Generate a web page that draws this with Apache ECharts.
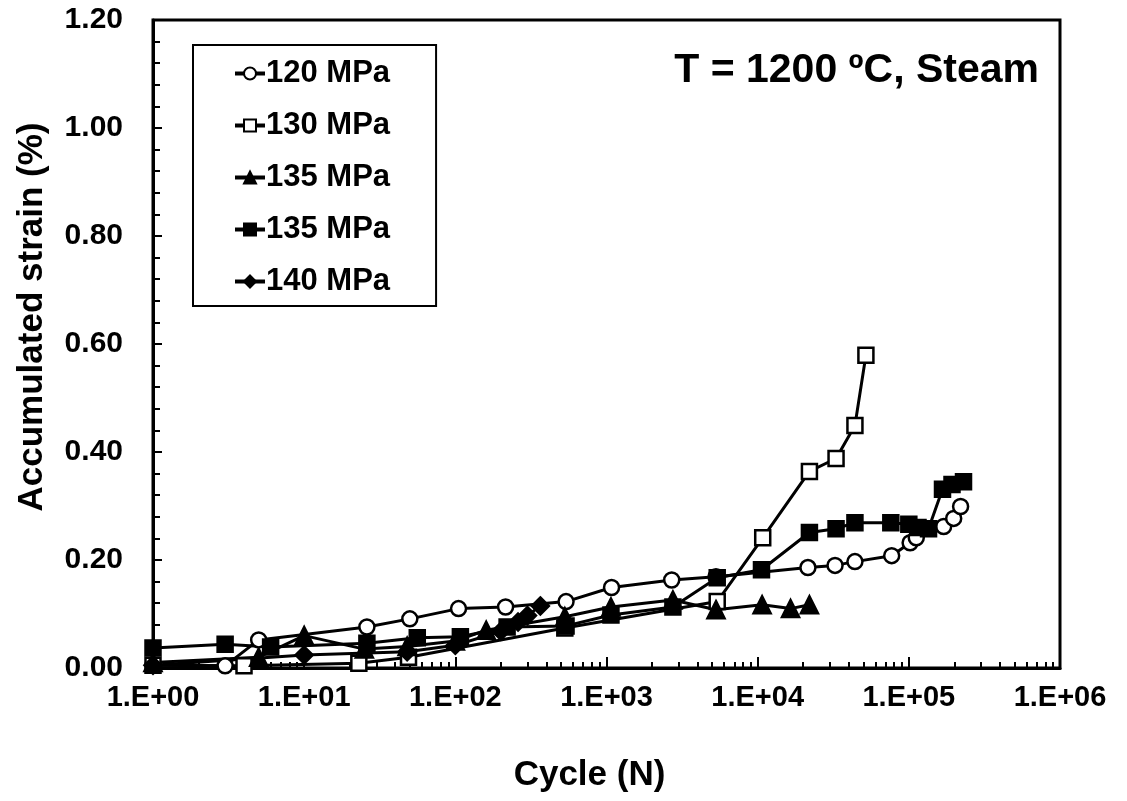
<!DOCTYPE html>
<html>
<head>
<meta charset="utf-8">
<script src="https://cdn.jsdelivr.net/npm/echarts@6/dist/echarts.min.js"></script>
<style>
  html, body { margin: 0; padding: 0; background: #fff; }
  #chart { width: 1127px; height: 801px; }
</style>
</head>
<body>
<div id="chart"></div>
<script>
// cycles (N) and accumulated strain (%) per test
const cycles120 = [1, 3, 5, 26, 50, 105, 215, 540, 1080, 2700, 5300, 21500, 32500, 44000, 77000, 102000, 112000, 170000, 198000, 220000];
const strain120 = [0.005, 0.004, 0.052, 0.076, 0.091, 0.110, 0.113, 0.123, 0.149, 0.163, 0.169, 0.186, 0.190, 0.197, 0.208, 0.232, 0.241, 0.262, 0.277, 0.299];

const cycles130 = [1, 4, 23, 49, 530, 5400, 10800, 22000, 33000, 44000, 52000];
const strain130 = [0.005, 0.004, 0.009, 0.020, 0.074, 0.123, 0.241, 0.364, 0.388, 0.449, 0.579];

const cycles135a = [1, 5, 10, 25, 48, 100, 160, 530, 1070, 2750, 5300, 10700, 16500, 22000];
const strain135a = [0.010, 0.020, 0.060, 0.035, 0.040, 0.050, 0.070, 0.095, 0.113, 0.126, 0.108, 0.117, 0.110, 0.117];

const cycles135b = [1, 3, 6, 26, 56, 108, 220, 540, 1070, 2750, 5400, 10600, 22000, 33000, 44000, 76000, 100000, 115000, 135000, 167000, 193000, 230000];
const strain135b = [0.037, 0.044, 0.039, 0.046, 0.056, 0.058, 0.076, 0.078, 0.098, 0.113, 0.167, 0.182, 0.251, 0.258, 0.269, 0.269, 0.266, 0.260, 0.258, 0.331, 0.340, 0.345];

const cycles140 = [1, 10, 48, 100, 200, 260, 300, 365];
const strain140 = [0.005, 0.024, 0.030, 0.042, 0.068, 0.085, 0.097, 0.115];

// the two 135 MPa tests need distinct series names
const seriesNames = ['120 MPa', '130 MPa', '135 MPa', '135 MPa ', '140 MPa'];

function pairs(xs, ys) {
    return xs.map((x, i) => [x, ys[i]]);
}

// minor tick positions (1..10 in each decade), in decades
const minorTicks = [];
for (let d = 0; d < 6; d++) {
    for (let k = 1; k <= 10; k++) {
        minorTicks.push(d + Math.log10(k));
    }
}

const font = 'Liberation Sans, Arial, sans-serif';

function makeSeries(name, data, symbol, filled) {
    return {
        name: name,
        type: 'line',
        data: data,
        symbol: symbol,
        symbolSize: symbol === 'triangle' || symbol === 'diamond' ? 17 : 15,
        lineStyle: { color: '#000', width: 3 },
        itemStyle: {
            color: filled ? '#000' : '#fff',
            borderColor: '#000',
            borderWidth: 2.5,
        },
        emphasis: { disabled: true },
        animation: false,
    };
}

const option = {
    backgroundColor: '#fff',
    animation: false,
    grid: {
        left: 153,
        right: 67,
        top: 20,
        bottom: 133,
        show: true,
        borderColor: '#000',
        borderWidth: 3,
    },
    title: {
        text: 'T = 1200 ºC, Steam',
        right: 83,
        top: 45,
        textStyle: { fontFamily: font, fontSize: 41, fontWeight: 'bold', color: '#000' },
    },
    legend: {
        orient: 'vertical',
        left: 193,
        top: 45,
        padding: [13, 46, 9, 40],
        itemGap: 21,
        itemWidth: 30,
        itemHeight: 15,
        borderColor: '#000',
        borderWidth: 2,
        data: seriesNames,
        formatter: name => name.trim(),
        lineStyle: { width: 4 },
        itemStyle: { borderWidth: 2 },
        textStyle: { fontFamily: font, fontSize: 31, fontWeight: 'bold', color: '#000', padding: [0, 0, 0, -4] },
    },
    xAxis: [{
        type: 'log',
        logBase: 10,
        min: 1,
        max: 1000000,
        splitNumber: 6,
        name: 'Cycle (N)',
        nameLocation: 'middle',
        nameGap: 90,
        nameTextStyle: { fontFamily: font, fontSize: 35, fontWeight: 'bold', color: '#000', padding: [0, 34, 0, 0] },
        axisLine: { lineStyle: { color: '#000', width: 3 } },
        axisTick: { inside: true, length: 11, lineStyle: { color: '#000', width: 2 } },
        splitLine: { show: false },
        axisLabel: {
            margin: 15,
            fontFamily: font, fontSize: 29, fontWeight: 'bold', color: '#000',
            formatter: v => '1.E+' + String(Math.round(Math.log10(v))).padStart(2, '0'),
        },
    }, {
        type: 'value',
        min: 0,
        max: 6,
        position: 'bottom',
        axisLine: { show: false },
        axisLabel: { show: false },
        splitLine: { show: false },
        axisTick: { inside: true, length: 6, customValues: minorTicks, lineStyle: { color: '#000', width: 2 } },
    }],
    yAxis: {
        type: 'value',
        min: 0,
        max: 1.2,
        interval: 0.2,
        name: 'Accumulated strain (%)',
        nameLocation: 'middle',
        nameGap: 103,
        nameTextStyle: { fontFamily: font, fontSize: 35, fontWeight: 'bold', color: '#000', padding: [0, 0, 0, 54] },
        axisLine: { show: true, lineStyle: { color: '#000', width: 3 } },
        axisTick: { show: true, inside: true, length: 9, lineStyle: { color: '#000', width: 2 } },
        minorTick: { show: true, splitNumber: 5, length: 7, lineStyle: { color: '#000', width: 2 } },
        splitLine: { show: false },
        axisLabel: {
            margin: 30,
            fontFamily: font, fontSize: 30, fontWeight: 'bold', color: '#000',
            formatter: v => v.toFixed(2),
        },
    },
    series: [
        makeSeries(seriesNames[0], pairs(cycles120, strain120), 'circle', false),
        makeSeries(seriesNames[1], pairs(cycles130, strain130), 'rect', false),
        makeSeries(seriesNames[2], pairs(cycles135a, strain135a), 'triangle', true),
        makeSeries(seriesNames[3], pairs(cycles135b, strain135b), 'rect', true),
        makeSeries(seriesNames[4], pairs(cycles140, strain140), 'diamond', true),
    ],
};

const chart = echarts.init(document.getElementById('chart'));
chart.setOption(option);
</script>
</body>
</html>
